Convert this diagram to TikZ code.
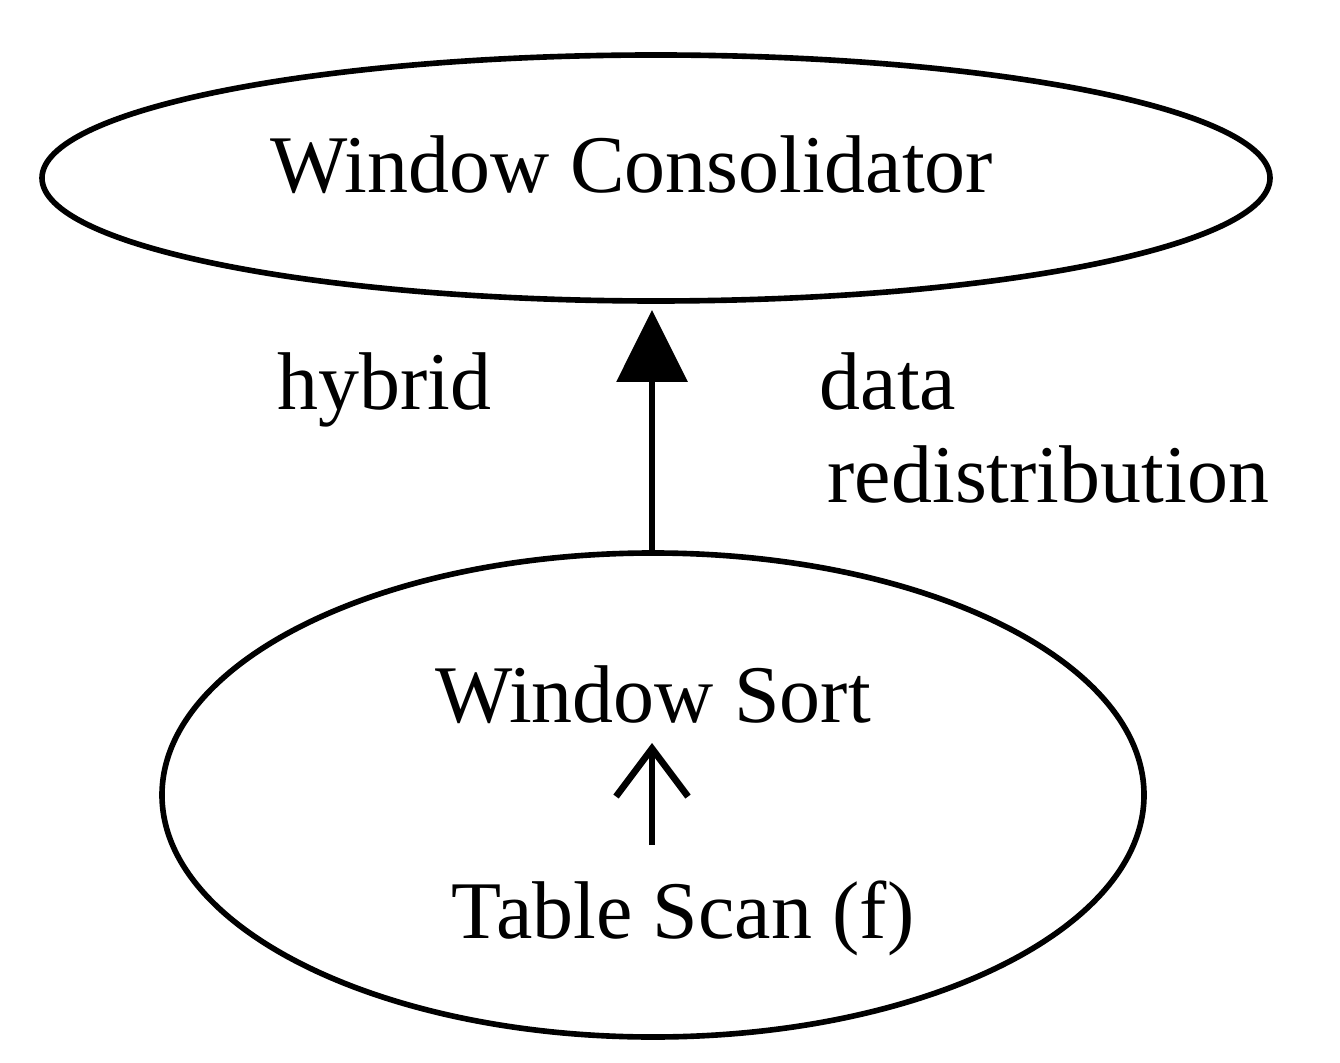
\documentclass[tikz,border=0pt]{standalone}
\usepackage{fontspec}
\setmainfont{Liberation Serif}
\usetikzlibrary{arrows.meta}
\begin{document}
\begin{tikzpicture}[x=1cm,y=1cm,
  lw/.style={line width=1.6pt},
  lbl/.style={inner sep=0pt, anchor=base west, font=\fontsize{23.3}{28}\selectfont},
  clbl/.style={inner sep=0pt, anchor=base, font=\fontsize{23.3}{28}\selectfont},
  edge/.style={line width=1.9pt}
]
\useasboundingbox (0,0) rectangle (13.40,10.62);
% top ellipse
\draw[lw] (6.56,8.84) ellipse [x radius=6.14, y radius=1.23];
\coordinate (topS) at (6.52,7.52);
\coordinate (botN) at (6.52,5.09);
\draw[lw] (6.53,2.67) ellipse [x radius=4.91, y radius=2.42];
\node[clbl] (wc) at (6.32,8.69) {Window Consolidator};
\node[lbl] (hy) at (2.77,6.52) {hybrid};
\node[lbl] (da) at (8.19,6.52) {data};
\node[lbl] (rd) at (8.27,5.59) {redistribution};
\node[clbl] (ws) at (6.53,3.40) {Window Sort};
\node[clbl] (ts) at (6.83,1.24) {Table Scan (f)};
\draw[edge, -{Triangle[length=0.72cm, width=0.70cm]}] (botN) -- (topS);
\coordinate (ia) at (6.52,2.17);
\coordinate (ib) at (6.52,3.19);
\draw[edge, -{Straight Barb[length=0.48cm, width=0.72cm, line width=1.9pt]}] (ia) -- (ib);
\end{tikzpicture}
\end{document}
